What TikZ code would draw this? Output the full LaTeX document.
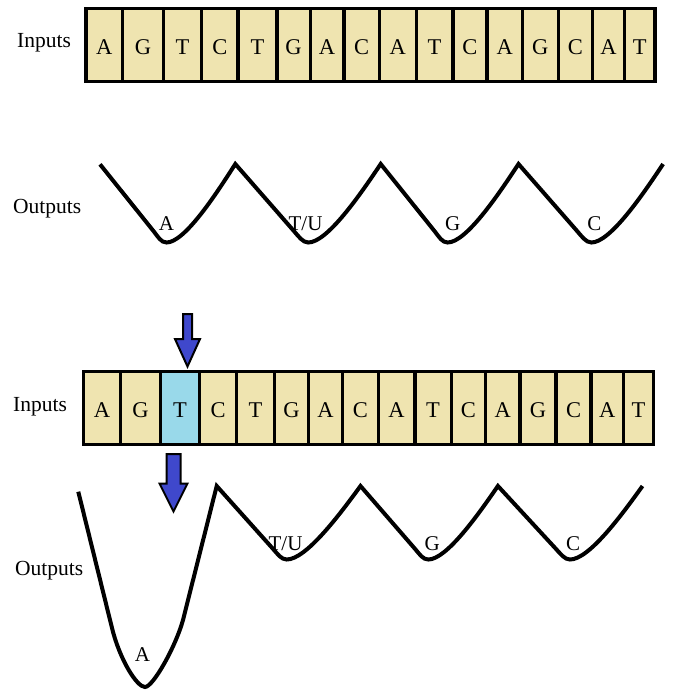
\documentclass[tikz,border=0pt]{standalone}
\usepackage{fontspec}
\setmainfont{Liberation Serif}
\definecolor{celltan}{RGB}{239,228,176}
\definecolor{cellblue}{RGB}{153,217,234}
\definecolor{arrowblue}{RGB}{63,72,204}
\begin{document}
\begin{tikzpicture}[x=1pt,y=-1pt,
  cell/.style={draw=black,line width=3.5pt,inner sep=0pt,minimum height=73.25pt,
    text height=19pt,text depth=0pt,font=\fontsize{22.5}{26}\selectfont},
  rowlabel/.style={anchor=base west,inner sep=0pt,font=\fontsize{21.5}{24}\selectfont},
  curvelabel/.style={anchor=base,inner sep=0pt,font=\fontsize{21}{24}\selectfont},
  curve/.style={draw=black,line width=4pt,line join=miter},
  bluearrow/.style={draw=black,fill=arrowblue,line width=2pt,line join=miter}]
\useasboundingbox (0,0) rectangle (674,694);
% ---------- top inputs ----------
\foreach \a/\b/\c [count=\i] in {85.75/122.5/A,122.5/163.3/G,163.3/201.7/T,201.7/238.2/C,
  238.2/276.8/T,276.8/310.3/G,310.3/343.8/A,343.8/379.4/C,379.4/416.3/A,416.3/452.8/T,
  452.8/487.1/C,487.1/522.3/A,522.3/558.4/G,558.4/592.3/C,592.3/624.5/A,624.5/655/T}
  \node[cell,fill=celltan,minimum width={\b-\a}] (t\i) at ({(\a+\b)/2},45.1) {\c};
\node[rowlabel] (inTop) at (17,47.7) {Inputs};
% ---------- top outputs ----------
\draw[curve] (100,164.3) -- (153.2,230.7) .. controls (158.2,237) and (161,242.5) .. (166.5,242.5)
  .. controls (184.4,242.5) and (215.3,195.4) .. (235.3,164)
  -- (293.6,230.7) .. controls (298.6,236.4) and (302.7,242.5) .. (308.2,242.5)
  .. controls (327.1,242.5) and (359.7,195.4) .. (380.7,164)
  -- (434.2,230.7) .. controls (439.2,237) and (442.1,242.5) .. (447.6,242.5)
  .. controls (466,242.5) and (497.9,195.4) .. (518.5,164)
  -- (576.8,230.7) .. controls (581.8,236.4) and (585.9,242.5) .. (591.4,242.5)
  .. controls (610,242.5) and (642.3,195.4) .. (663.1,164);
\node[rowlabel] (outTop) at (13,213) {Outputs};
\node[curvelabel] (oA1) at (166.5,230) {A};
\node[curvelabel] (oT1) at (305.5,230) {T/U};
\node[curvelabel] (oG1) at (452.8,230) {G};
\node[curvelabel] (oC1) at (594.4,230) {C};
% ---------- middle inputs ----------
\foreach \a/\b/\c/\f [count=\i] in {83.25/120.6/A/celltan,120.6/160.5/G/celltan,160.5/199.6/T/cellblue,
  199.6/236.7/C/celltan,236.7/274.5/T/celltan,274.5/308.4/G/celltan,308.4/342.7/A/celltan,
  342.7/378.3/C/celltan,378.3/414.8/A/celltan,414.8/451.3/T/celltan,451.3/485.6/C/celltan,
  485.6/520/A/celltan,520/556/G/celltan,556/591/C/celltan,591/623.3/A/celltan,623.3/653.5/T/celltan}
  \node[cell,fill=\f,minimum width={\b-\a}] (m\i) at ({(\a+\b)/2},408) {\c};
\node[rowlabel] (inBot) at (13,411.7) {Inputs};
% arrows
\draw[bluearrow] (183,314) -- (192,314) -- (192,339) -- (200,339) -- (187.5,366.5)
  -- (175,339) -- (183,339) -- cycle;
\draw[bluearrow] (166.5,454) -- (180.5,454) -- (180.5,483.5) -- (187.5,483.5) -- (173.5,511.5)
  -- (159.5,483.5) -- (166.5,483.5) -- cycle;
% ---------- bottom outputs ----------
\draw[curve] (78.3,491.7) -- (112,628) .. controls (120,660.4) and (137,687) .. (145,687)
  .. controls (153,687) and (175.5,647) .. (183,620) -- (216.7,486)
  -- (272.7,548.5) .. controls (277.7,554.1) and (281.2,559.5) .. (286.7,559.5)
  .. controls (305.9,559.5) and (339.1,515.4) .. (360.5,486)
  -- (414.7,548.5) .. controls (419.7,554.3) and (422.8,559.5) .. (428.3,559.5)
  .. controls (446.4,559.5) and (477.7,515.4) .. (497.9,486)
  -- (555.6,548.5) .. controls (560.6,553.9) and (564.5,559.5) .. (570,559.5)
  .. controls (588.9,559.5) and (621.5,515.4) .. (642.5,486);
\node[rowlabel] (outBot) at (15,575) {Outputs};
\node[curvelabel] (oA2) at (142.5,661.5) {A};
\node[curvelabel] (oT2) at (285.5,550.7) {T/U};
\node[curvelabel] (oG2) at (432.2,550.7) {G};
\node[curvelabel] (oC2) at (573,550.7) {C};
\end{tikzpicture}
\end{document}
